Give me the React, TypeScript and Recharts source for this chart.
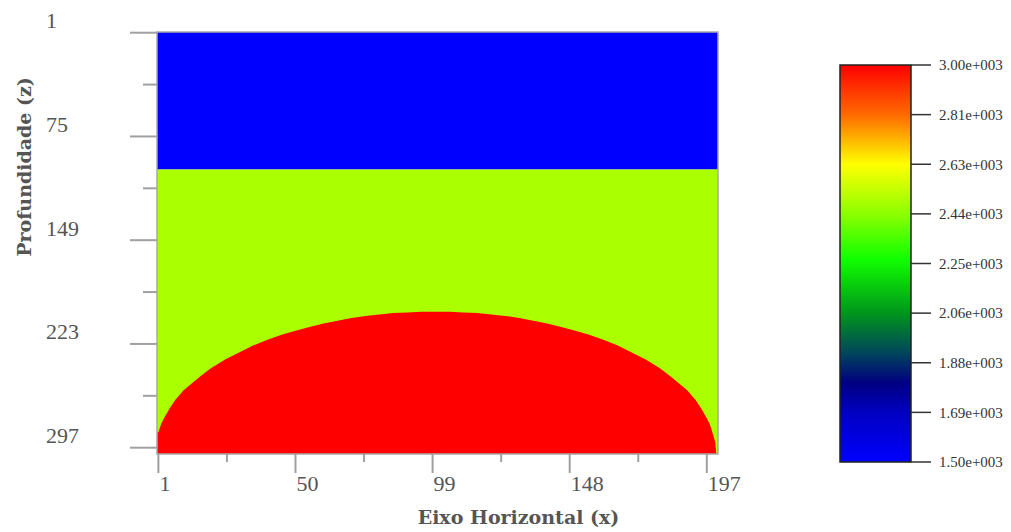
import React from "react";
import { ComposedChart, Area, XAxis, YAxis, ReferenceArea, BarChart, Bar } from "recharts";

// Grid extents of the velocity model (cell edges)
const xMin = 0.5;
const xMax = 201;
const zMin = 0.5;
const zMax = 301.5;

// Axis ticks
const xMajor = [1, 50, 99, 148, 197];
const xMinor = [25.5, 74.5, 123.5, 172.5];
const zMajor = [1, 75, 149, 223, 297];
const zMinor = [38, 112, 186, 260];

// Horizontal layers: top and bottom depth, velocity (m/s)
const layerTop = [0.5, 98.5];
const layerBottom = [98.5, 301.5];
const layerVelocity = [1500, 2530];

// High-velocity dome: depth of its upper boundary along x
const domeX = [0.5, 1, 2, 3, 5, 7, 10, 13, 16, 20, 25, 30, 35, 40, 45, 50, 55, 60, 65, 70, 75, 80, 85, 90, 95, 100,
  105, 110, 115, 120, 125, 130, 135, 140, 145, 150, 155, 160, 165, 170, 175, 180, 184, 187, 190, 193, 195, 197, 198, 199, 200, 200.4];
const domeZ = [286, 286, 280, 276, 269, 263, 256, 251, 246, 240, 234, 229, 224, 220, 216.5, 213.5, 211, 208.5, 206.5, 204.5, 203, 202, 201, 200.5, 200, 200,
  200, 200.5, 201, 202, 203, 204.5, 206.5, 208.5, 211, 213.5, 216.5, 220, 224, 229, 234, 240, 246, 251, 256, 263, 269, 276, 280, 286, 293, 301.5];
const domeVelocity = 3000;

// Colour scale
const scaleMin = 1500;
const scaleMax = 3000;
const scaleTicks = [1500, 1687.5, 1875, 2062.5, 2250, 2437.5, 2625, 2812.5, 3000];
const scaleStops: [number, string][] = [
  [0, "#ff0000"],
  [0.125, "#ff6a00"],
  [0.25, "#ffff00"],
  [0.375, "#8cff00"],
  [0.49, "#10ff00"],
  [0.625, "#00951c"],
  [0.72, "#004a58"],
  [0.8, "#000080"],
  [0.875, "#0000c0"],
  [1, "#0000ff"],
];
const velocityColor: Record<number, string> = { 1500: "#0000ff", 2530: "#aaff00", 3000: "#ff0000" };

const tickFont = "'Liberation Serif', serif";
const titleFont = "'DejaVu Serif', serif";

const XTick = (props: any) => {
  const { x, y, payload } = props;
  const v = payload.value;
  const major = xMajor.includes(v);
  return (
    <g>
      <line x1={x} x2={x} y1={y} y2={y + (major ? 19 : 8)} stroke="#a0a0a0" strokeWidth={2} />
      {major && (
        <text x={x + 1} y={y + 29} dominantBaseline="central" textAnchor="start" fontSize={22} fill="#555" fontFamily={tickFont}>
          {v}
        </text>
      )}
    </g>
  );
};

const YTick = (props: any) => {
  const { x, y, payload } = props;
  const v = payload.value;
  const major = zMajor.includes(v);
  return (
    <g>
      <line x1={x - (major ? 27 : 14)} x2={x} y1={y} y2={y} stroke="#a0a0a0" strokeWidth={2} />
      {major && (
        <text x={x - 111} y={y - 12} dominantBaseline="central" textAnchor="start" fontSize={22} fill="#555" fontFamily={tickFont}>
          {v}
        </text>
      )}
    </g>
  );
};

const XTitle = (props: any) => {
  const vb = props.viewBox;
  return (
    <text x={vb.x + vb.width / 2 + 81} y={vb.y + 63} textAnchor="middle" dominantBaseline="central"
      fontSize={19} fontWeight="bold" fill="#555" fontFamily={titleFont}>
      Eixo Horizontal (x)
    </text>
  );
};

const YTitle = (props: any) => {
  const vb = props.viewBox;
  const cx = vb.x - 33;
  const cy = vb.y + vb.height / 2 - 76;
  return (
    <text x={cx} y={cy} transform={`rotate(-90 ${cx} ${cy})`} textAnchor="middle" dominantBaseline="central"
      fontSize={19} fontWeight="bold" fill="#555" fontFamily={titleFont}>
      Profundidade (z)
    </text>
  );
};

const fmtScale = (v: number) => `${(v / 1000).toFixed(2)}e+003`;

export default function App() {
  const domeData = domeX.map((x, i) => ({ x, z: domeZ[i] }));
  const scaleData = [{ name: "v", range: [scaleMin, scaleMax] }];

  return (
    <div style={{ position: "absolute", left: 0, top: 0, width: 1011, height: 532, background: "#fff" }}>
      <div style={{ position: "absolute", left: 0, top: 0 }}>
        <ComposedChart width={760} height={532} margin={{ top: 32, right: 42, bottom: 18, left: 57 }}>
          <XAxis
            dataKey="x"
            type="number"
            domain={[xMin, xMax]}
            allowDataOverflow
            ticks={[...xMajor, ...xMinor].sort((a, b) => a - b)}
            interval={0}
            tick={<XTick />}
            tickLine={false}
            tickSize={0}
            tickMargin={0}
            axisLine={false}
            height={60}
            label={<XTitle />}
          />
          <YAxis
            dataKey="z"
            type="number"
            reversed
            domain={[zMin, zMax]}
            allowDataOverflow
            ticks={[...zMajor, ...zMinor].sort((a, b) => a - b)}
            interval={0}
            tick={<YTick />}
            tickLine={false}
            tickSize={0}
            tickMargin={0}
            axisLine={false}
            width={100}
            label={<YTitle />}
          />
          {layerTop.map((top, i) => (
            <Area
              key={`layer-${i}`}
              data={[{ x: xMin, z: layerBottom[i] }, { x: xMax, z: layerBottom[i] }]}
              dataKey="z"
              type="linear"
              baseValue={top}
              fill={velocityColor[layerVelocity[i]]}
              fillOpacity={1}
              stroke="none"
              isAnimationActive={false}
              dot={false}
              activeDot={false}
            />
          ))}
          <Area
            data={domeData}
            dataKey="z"
            type="linear"
            baseValue={zMax}
            fill={velocityColor[domeVelocity]}
            fillOpacity={1}
            stroke="none"
            isAnimationActive={false}
            dot={false}
            activeDot={false}
          />
          <ReferenceArea x1={xMin} x2={xMax} y1={zMin} y2={zMax} fill="none" stroke="#a8a8a8" strokeWidth={1.5} ifOverflow="visible" />
        </ComposedChart>
      </div>
      <div style={{ position: "absolute", left: 830, top: 0 }}>
        <BarChart width={181} height={532} data={scaleData} margin={{ top: 65, right: 0, bottom: 70, left: 10 }} barCategoryGap={0}>
          <defs>
            <linearGradient id="velScale" x1="0" y1="0" x2="0" y2="1">
              {scaleStops.map(([o, c]) => (
                <stop key={o} offset={o} stopColor={c} />
              ))}
            </linearGradient>
          </defs>
          <XAxis dataKey="name" type="category" hide />
          <YAxis
            orientation="right"
            type="number"
            domain={[scaleMin, scaleMax]}
            ticks={scaleTicks}
            interval={0}
            tickFormatter={fmtScale}
            tickSize={20}
            tickMargin={8}
            tickLine={{ stroke: "#333", strokeWidth: 1.5 }}
            axisLine={false}
            width={100}
            tick={{ fontSize: 15, fill: "#333", fontFamily: tickFont }}
          />
          <Bar dataKey="range" fill="url(#velScale)" stroke="#222" strokeWidth={1.5} isAnimationActive={false} />
        </BarChart>
      </div>
    </div>
  );
}
